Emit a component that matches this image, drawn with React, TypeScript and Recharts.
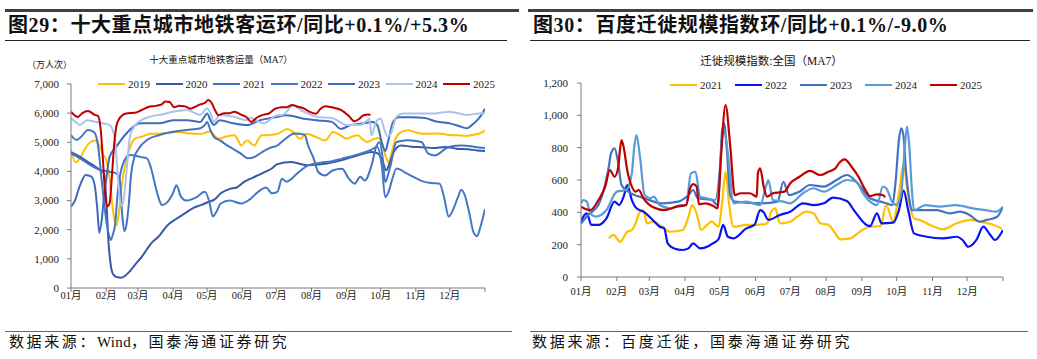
import React from 'react';
import { LineChart, Line, XAxis, YAxis } from 'recharts';

type Pt = [number, number]; // [day of year, value]

const monthTicks = [0, 31, 59, 90, 120, 151, 181, 212, 243, 273, 304, 334, 365];
const monthLabels = ['01月', '02月', '03月', '04月', '05月', '06月', '07月', '08月', '09月', '10月', '11月', '12月', ''];
const metroTicks = [0, 1000, 2000, 3000, 4000, 5000, 6000, 7000];
const migrateTicks = [0, 200, 400, 600, 800, 1000, 1200];

// 十大重点城市地铁客运量（MA7），万人次
const metro2019: Pt[] = [[0,4730],[4,4320],[8,4450],[12,4750],[17,5000],[21,5060],[25,4900],[28,4600],[31,4400],[34,3800],[36,3000],[38,2400],[40,2150],[42,2500],[44,3300],[47,4090],[51,4700],[56,5120],[63,5200],[70,5290],[80,5300],[94,5350],[105,5300],[115,5290],[120,5350],[123,5380],[127,5200],[130,5120],[137,5200],[144,5240],[147,5100],[150,4890],[153,5000],[156,5060],[159,4950],[162,4890],[165,5100],[168,5240],[175,5250],[182,5290],[191,5460],[196,5350],[202,5120],[208,5290],[215,5200],[224,5060],[231,5350],[237,5250],[243,5120],[248,5200],[253,5240],[257,5100],[261,5010],[266,5100],[271,5150],[275,4850],[278,4450],[280,4320],[283,4700],[286,5120],[291,5350],[297,5410],[305,5330],[312,5290],[320,5300],[327,5290],[334,5250],[341,5240],[348,5220],[356,5270],[360,5300],[365,5410]];
const metro2020: Pt[] = [[0,4660],[8,4500],[15,4320],[20,4200],[26,4040],[29,3950],[31,3100],[33,1600],[35,800],[37,480],[40,380],[44,350],[48,430],[52,580],[56,780],[62,1050],[70,1500],[78,1800],[85,2150],[92,2350],[100,2550],[108,2750],[115,2850],[121,2950],[127,3050],[132,3250],[140,3400],[146,3450],[153,3650],[160,3780],[165,3870],[172,4000],[177,4100],[182,4250],[194,4320],[209,4210],[224,4260],[238,4380],[253,4550],[265,4670],[271,4610],[275,4300],[278,4040],[281,4300],[285,4700],[291,4890],[300,4850],[310,4830],[320,4800],[330,4840],[340,4780],[350,4760],[358,4720],[365,4700]];
const metro2021: Pt[] = [[0,4620],[8,4450],[17,4220],[26,4050],[34,3990],[40,3930],[43,3700],[45,2600],[47,1950],[49,2200],[51,2900],[53,3900],[56,4500],[60,4800],[67,5080],[78,5250],[90,5360],[102,5420],[114,5480],[118,5600],[120,5700],[123,5400],[126,5190],[132,5050],[137,4910],[144,4750],[150,4600],[156,4450],[162,4500],[168,4650],[175,4800],[182,4890],[189,5120],[197,5300],[206,5260],[209,4890],[214,4440],[218,3980],[224,3860],[231,4040],[239,4090],[245,3750],[250,3580],[255,3820],[259,3690],[265,4210],[269,4840],[272,5000],[275,4400],[277,3640],[281,4090],[287,5010],[297,5070],[309,5010],[315,4610],[321,4550],[333,4840],[345,4890],[356,4840],[365,4800]];
const metro2022: Pt[] = [[0,5250],[5,5080],[9,5190],[15,5420],[20,5360],[23,5080],[25,4500],[27,3700],[29,3000],[31,2330],[33,1900],[35,1650],[37,1850],[39,2200],[41,3200],[43,3800],[46,4280],[52,4560],[61,4500],[67,4450],[71,4050],[75,3400],[78,3000],[80,2850],[84,2910],[90,3260],[93,3530],[97,3130],[102,3000],[110,3100],[118,3300],[122,2950],[125,2450],[128,2600],[132,2900],[140,3000],[150,2900],[158,3050],[165,3300],[172,3450],[177,3250],[182,3300],[186,3750],[190,3650],[200,3950],[209,4210],[220,4300],[230,4350],[239,4440],[250,4550],[259,4660],[265,4750],[270,4850],[274,4200],[277,3120],[280,3300],[283,3700],[287,4100],[296,3930],[305,3750],[311,3650],[318,3600],[325,3580],[329,3100],[333,2450],[337,2700],[341,3100],[344,3360],[347,3200],[351,2600],[355,1900],[358,1780],[361,2100],[365,2700]];
const metro2023: Pt[] = [[0,2800],[3,2960],[8,3530],[13,3880],[18,3820],[21,3500],[23,2800],[25,1900],[27,2300],[29,3100],[31,3700],[34,4500],[40,4850],[49,5310],[61,5650],[78,5650],[90,5760],[102,5760],[114,5700],[118,5900],[120,5990],[123,5750],[126,5590],[131,5760],[143,5650],[155,5590],[167,5760],[180,5860],[190,5930],[205,5810],[218,5750],[230,5700],[238,5460],[246,5580],[258,5650],[266,5700],[270,5600],[274,5000],[277,4700],[280,5100],[284,5700],[289,5860],[300,5860],[312,5830],[322,5710],[335,5640],[345,5520],[349,5480],[353,5580],[358,5750],[362,5950],[365,6150]];
const metro2024: Pt[] = [[0,5820],[4,5700],[8,5590],[14,5760],[22,5700],[28,5650],[34,5590],[37,5400],[39,5000],[41,4000],[43,3100],[45,2810],[47,3200],[49,4050],[52,5190],[55,5500],[58,5650],[70,5880],[80,5950],[90,6050],[102,6110],[114,5940],[120,6170],[123,6000],[126,5700],[131,5940],[143,5880],[155,5760],[158,5850],[163,5750],[170,5650],[180,5900],[187,5950],[196,6250],[205,6050],[216,5880],[231,5820],[243,5590],[255,5590],[261,5750],[263,5820],[265,5250],[268,5600],[270,5760],[273,5820],[276,5480],[279,5200],[282,5300],[287,5880],[293,5990],[305,5990],[320,5990],[334,6050],[349,5940],[360,5990],[365,6000]];
const metro2025: Pt[] = [[0,6050],[6,5870],[10,6000],[15,6070],[21,5940],[24,5900],[26,5500],[28,4500],[30,3300],[32,2800],[34,2900],[36,3800],[38,4900],[41,5700],[46,5950],[50,6000],[56,6010],[62,6100],[68,6210],[75,6250],[80,6300],[83,6400],[87,6380],[91,6200],[95,6250],[100,6240],[105,6150],[109,6210],[114,6300],[118,6350],[121,6450],[124,6350],[127,6100],[130,5930],[135,6000],[140,6000],[144,6050],[150,5950],[155,5850],[159,5700],[164,5850],[170,5950],[174,5980],[180,6150],[186,6200],[190,6200],[195,6280],[200,6220],[206,6150],[210,6050],[216,5980],[220,6150],[224,6240],[230,6200],[235,6150],[239,6090],[245,5900],[250,5720],[254,5800],[258,5930],[262,5950],[264,5930]];

// 迁徙规模指数:全国（MA7）
const mig2021: Pt[] = [[24,239],[28,260],[34,218],[40,280],[44,291],[47,328],[51,404],[54,414],[57,332],[63,342],[68,322],[77,280],[88,291],[93,373],[96,445],[100,394],[104,291],[109,322],[113,342],[119,311],[122,456],[125,651],[128,456],[132,311],[143,322],[152,322],[161,332],[165,410],[168,425],[172,332],[181,342],[187,373],[195,404],[201,394],[207,332],[214,322],[220,270],[224,233],[233,239],[241,280],[250,311],[259,315],[264,445],[270,342],[275,518],[279,693],[283,497],[288,363],[293,353],[302,322],[313,295],[325,332],[337,353],[345,342],[357,322],[364,300]];
const mig2022: Pt[] = [[0,342],[3,384],[5,394],[9,322],[15,322],[22,363],[29,466],[33,445],[37,500],[40,569],[44,476],[48,425],[54,404],[62,353],[68,311],[72,301],[75,208],[80,178],[88,167],[93,177],[97,208],[103,177],[110,190],[114,208],[119,235],[123,322],[127,249],[132,239],[143,301],[150,322],[155,414],[158,400],[162,353],[172,384],[181,404],[192,456],[201,445],[210,456],[218,491],[230,470],[236,414],[247,322],[250,315],[256,394],[260,332],[270,336],[275,414],[279,534],[283,414],[288,270],[299,249],[313,239],[325,249],[330,229],[335,187],[342,229],[348,311],[354,260],[358,229],[365,291]];
const mig2023: Pt[] = [[0,330],[6,384],[15,445],[20,546],[24,680],[26,765],[29,796],[32,713],[35,569],[41,528],[55,487],[70,456],[84,466],[93,507],[97,538],[101,487],[113,476],[118,445],[120,600],[122,900],[124,951],[126,800],[129,507],[133,466],[156,456],[170,466],[175,589],[180,507],[189,528],[198,569],[210,559],[221,600],[230,631],[238,590],[244,538],[250,487],[259,466],[264,456],[269,445],[272,580],[275,850],[277,920],[279,870],[281,662],[284,480],[286,414],[293,414],[308,414],[319,394],[328,404],[336,384],[345,342],[351,353],[360,373],[365,435]];
const mig2024: Pt[] = [[0,456],[2,476],[5,466],[8,394],[13,373],[22,414],[31,528],[39,538],[44,641],[46,800],[48,878],[51,744],[55,507],[60,487],[63,497],[68,445],[77,425],[86,445],[91,445],[95,641],[99,651],[103,497],[109,487],[116,476],[120,662],[122,860],[124,899],[127,765],[132,456],[143,466],[155,445],[160,560],[162,600],[166,476],[175,466],[181,456],[192,518],[201,549],[210,528],[221,569],[230,600],[238,590],[244,518],[250,466],[256,445],[261,559],[264,549],[269,466],[273,445],[277,520],[280,800],[282,930],[284,800],[286,560],[288,414],[298,445],[310,435],[324,445],[339,425],[350,414],[359,404],[365,435]];
const mig2025: Pt[] = [[0,435],[8,414],[16,487],[21,560],[25,662],[29,620],[32,672],[35,847],[37,800],[40,660],[44,559],[47,528],[50,538],[54,487],[63,430],[72,414],[83,435],[91,445],[94,540],[97,575],[100,560],[102,450],[108,456],[114,440],[118,425],[121,734],[125,1064],[129,817],[133,507],[138,518],[146,518],[152,497],[153,641],[155,672],[158,560],[161,497],[166,518],[172,524],[176,528],[181,580],[189,620],[198,656],[207,631],[214,651],[220,672],[223,703],[228,728],[234,682],[240,620],[246,538],[250,501],[256,511],[261,507],[263,493]];

const FONT = '"Liberation Serif", "Times New Roman", "Noto Sans CJK SC", serif';

const metroSeries = [
  { name: '2019', pts: metro2019, color: '#FFC000' },
  { name: '2020', pts: metro2020, color: '#3559A6' },
  { name: '2021', pts: metro2021, color: '#4472C4' },
  { name: '2022', pts: metro2022, color: '#4676C6' },
  { name: '2023', pts: metro2023, color: '#3E6CBD' },
  { name: '2024', pts: metro2024, color: '#A9C3EA' },
  { name: '2025', pts: metro2025, color: '#C00000' },
];

const migSeries = [
  { name: '2021', pts: mig2021, color: '#FFC000' },
  { name: '2022', pts: mig2022, color: '#0A14F0' },
  { name: '2023', pts: mig2023, color: '#4472C4' },
  { name: '2024', pts: mig2024, color: '#5B9BD5' },
  { name: '2025', pts: mig2025, color: '#C00000' },
];

const toRows = (pts: Pt[]) => pts.map(([day, v]) => ({ day, v }));
const fmtMonth = (d: number) => monthLabels[monthTicks.indexOf(d)] ?? '';
const fmtNum = (v: number) => v.toLocaleString('en-US');

const axisColor = '#7a7a7a';
const tickStyle = { fontSize: 11, fill: '#222', fontFamily: FONT };
const xTickStyle = { fontSize: 10.5, fill: '#222', fontFamily: FONT };

const LegendRow = ({ items, left, top, gap }: { items: { name: string; color: string }[]; left: number; top: number; gap: number }) => (
  <div style={{ position: 'absolute', left, top, display: 'flex', alignItems: 'center', gap, height: 14 }}>
    {items.map((it) => (
      <div key={it.name} style={{ display: 'flex', alignItems: 'center' }}>
        <span style={{ display: 'inline-block', width: 27, height: 2.5, background: it.color, marginRight: 3 }} />
        <span style={{ fontSize: 11, lineHeight: '14px', color: '#222' }}>{it.name}</span>
      </div>
    ))}
  </div>
);

const abs = (s: React.CSSProperties): React.CSSProperties => ({ position: 'absolute', ...s });

export default function App() {
  return (
    <div style={abs({ left: 0, top: 0, width: 1037, height: 359, background: '#fff', fontFamily: FONT, color: '#111', overflow: 'hidden' })}>
      {/* header rules and titles */}
      <div style={abs({ left: 5, top: 9, width: 514, height: 3, background: '#404040' })} />
      <div style={abs({ left: 528, top: 9, width: 505, height: 3, background: '#404040' })} />
      <div style={abs({ left: 8, top: 14, fontSize: 20, lineHeight: '22px', fontWeight: 700, letterSpacing: 0.6, whiteSpace: 'nowrap' })}>
        图29：十大重点城市地铁客运环/同比+0.1%/+5.3%
      </div>
      <div style={abs({ left: 533, top: 14, fontSize: 20, lineHeight: '22px', fontWeight: 700, letterSpacing: 0.6, whiteSpace: 'nowrap' })}>
        图30：百度迁徙规模指数环/同比+0.1%/-9.0%
      </div>
      <div style={abs({ left: 5, top: 40, width: 502, height: 1, background: '#222' })} />
      <div style={abs({ left: 530, top: 40, width: 500, height: 1, background: '#222' })} />

      {/* left panel */}
      <div style={abs({ left: 0, top: 54, width: 442, textAlign: 'center', fontSize: 9.5, lineHeight: '12px', whiteSpace: 'nowrap' })}>
        十大重点城市地铁客运量（MA7）
      </div>
      <div style={abs({ left: 27, top: 60, fontSize: 9, lineHeight: '11px', whiteSpace: 'nowrap' })}>（万人次）</div>
      <div style={abs({ left: 0, top: 0 })}>
        <LineChart width={520} height={320} margin={{ top: 84, right: 35, bottom: 12, left: 11 }}>
          <XAxis
            type="number"
            dataKey="day"
            domain={[0, 365]}
            ticks={monthTicks}
            tickFormatter={fmtMonth}
            interval={0}
            height={20}
            tickSize={4}
            tickMargin={0}
            axisLine={{ stroke: axisColor }}
            tickLine={{ stroke: axisColor }}
            tick={xTickStyle}
            allowDataOverflow
          />
          <YAxis
            type="number"
            domain={[0, 7000]}
            ticks={metroTicks}
            tickFormatter={fmtNum}
            width={60}
            tickSize={4}
            tickMargin={8}
            axisLine={{ stroke: axisColor }}
            tickLine={{ stroke: axisColor }}
            tick={tickStyle}
            interval={0}
          />
          {metroSeries.map((s) => (
            <Line
              key={s.name}
              data={toRows(s.pts)}
              dataKey="v"
              name={s.name}
              type="monotone"
              stroke={s.color}
              strokeWidth={2}
              dot={false}
              isAnimationActive={false}
            />
          ))}
        </LineChart>
      </div>
      <LegendRow items={metroSeries} left={98} top={77} gap={5.5} />

      {/* right panel */}
      <div style={abs({ left: 520, top: 54, width: 517, textAlign: 'center', fontSize: 11.5, lineHeight: '14px', whiteSpace: 'nowrap' })}>
        <span style={{ position: 'relative', left: -7 }}>迁徙规模指数:全国（MA7）</span>
      </div>
      <div style={abs({ left: 520, top: 0 })}>
        <LineChart width={517} height={320} margin={{ top: 83, right: 34, bottom: 23, left: 11 }}>
          <XAxis
            type="number"
            dataKey="day"
            domain={[0, 365]}
            ticks={monthTicks}
            tickFormatter={fmtMonth}
            interval={0}
            height={20}
            tickSize={4}
            tickMargin={7}
            axisLine={{ stroke: axisColor }}
            tickLine={{ stroke: axisColor }}
            tick={xTickStyle}
            allowDataOverflow
          />
          <YAxis
            type="number"
            domain={[0, 1200]}
            ticks={migrateTicks}
            tickFormatter={fmtNum}
            width={50}
            tickSize={4}
            tickMargin={9}
            axisLine={{ stroke: axisColor }}
            tickLine={{ stroke: axisColor }}
            tick={tickStyle}
            interval={0}
          />
          {migSeries.map((s) => (
            <Line
              key={s.name}
              data={toRows(s.pts)}
              dataKey="v"
              name={s.name}
              type="monotone"
              stroke={s.color}
              strokeWidth={2.2}
              dot={false}
              isAnimationActive={false}
            />
          ))}
        </LineChart>
      </div>
      <LegendRow items={migSeries} left={670} top={78} gap={13} />

      {/* footer */}
      <div style={abs({ left: 5, top: 331, width: 507, height: 1.3, background: '#666' })} />
      <div style={abs({ left: 530, top: 331, width: 498, height: 1.3, background: '#666' })} />
      <div style={abs({ left: 9, top: 334, fontSize: 15, lineHeight: '16px', letterSpacing: 2.6, whiteSpace: 'nowrap' })}>
        数据来源：<span style={{ letterSpacing: 0.3 }}>Wind</span>，国泰海通证券研究
      </div>
      <div style={abs({ left: 532, top: 334, fontSize: 15, lineHeight: '16px', letterSpacing: 2.8, whiteSpace: 'nowrap' })}>
        数据来源：百度迁徙，国泰海通证券研究
      </div>
    </div>
  );
}
